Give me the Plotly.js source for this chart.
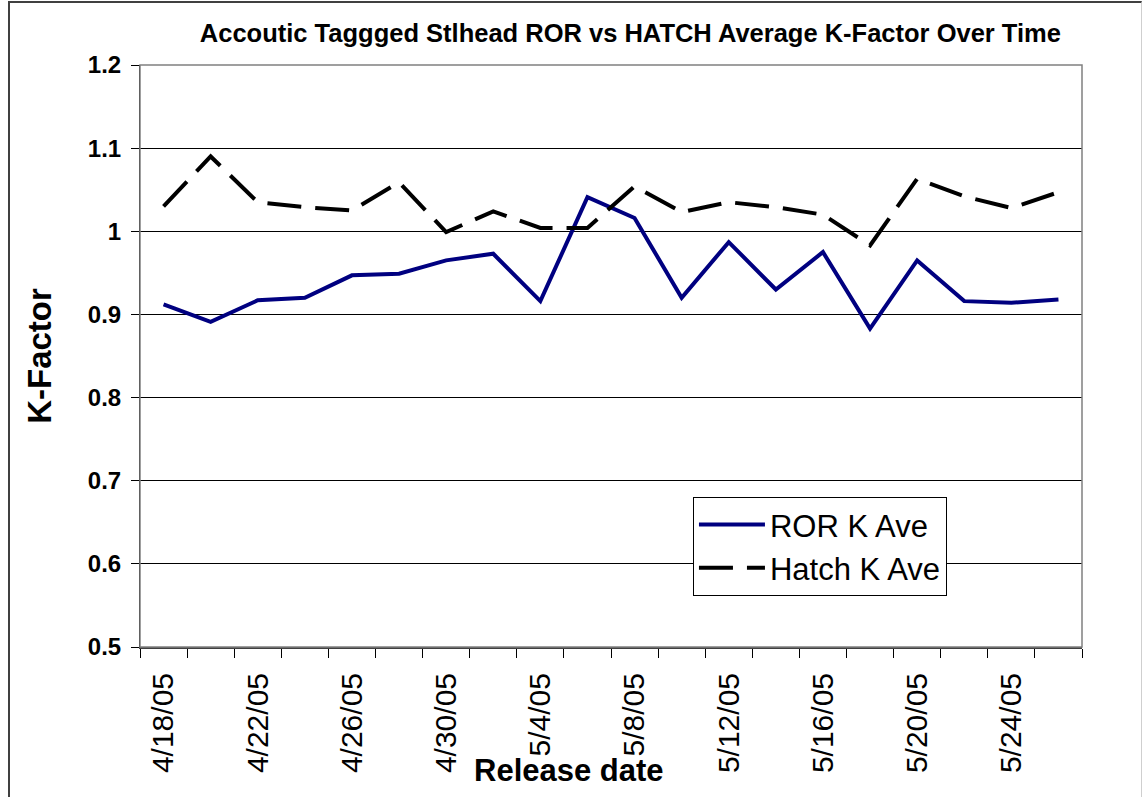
<!DOCTYPE html>
<html>
<head>
<meta charset="utf-8">
<script src="https://cdn.plot.ly/plotly-3.0.1.min.js"></script>
<style>
  html, body { margin: 0; padding: 0; background: #fff; }
  #chart { position: absolute; left: 0; top: 0; width: 1142px; height: 797px; }
  #frame { position: absolute; left: 8px; top: 1px; width: 1131px; height: 810px;
           border-left: 2px solid #404040; border-top: 2px solid #404040; border-right: 1px solid #cfcfcf;
           pointer-events: none; }
</style>
</head>
<body>
<div id="chart"></div>
<div id="frame"></div>
<script>
const releaseDates = ["4/18/05","4/20/05","4/22/05","4/24/05","4/26/05","4/28/05","4/30/05","5/2/05",
  "5/4/05","5/6/05","5/8/05","5/10/05","5/12/05","5/14/05","5/16/05","5/18/05",
  "5/20/05","5/22/05","5/24/05","5/26/05"];
const rorKAve = [0.912,0.891,0.917,0.920,0.947,0.949,0.965,0.973,0.916,1.041,
  1.016,0.920,0.987,0.930,0.975,0.883,0.965,0.916,0.914,0.918];
const hatchKAve = [1.030,1.090,1.035,1.029,1.025,1.059,0.999,1.024,1.004,1.004,
  1.054,1.023,1.035,1.029,1.020,0.983,1.063,1.042,1.028,1.047];
const tickLabels = releaseDates.map((d, i) => (i % 2 === 0 ? d : ""));

const FONT = "Liberation Sans, Arial, sans-serif";

const traces = [
  { x: releaseDates, y: rorKAve, type: "scatter", mode: "lines", name: "ROR K Ave",
    line: { color: "#000080", width: 4 } },
  { x: releaseDates, y: hatchKAve, type: "scatter", mode: "lines", name: "Hatch K Ave",
    line: { color: "#000000", width: 4, dash: "34px,14px" } }
];

const layout = {
  width: 1142, height: 797,
  margin: { l: 140, r: 60, t: 65, b: 150 },
  paper_bgcolor: "#ffffff", plot_bgcolor: "#ffffff",
  font: { family: FONT, color: "#000" },
  showlegend: true,
  title: { text: "<b>Accoutic Taggged Stlhead ROR vs HATCH Average K-Factor Over Time</b>",
           font: { size: 25.5, family: FONT, color: "#000" },
           x: 0.552, xanchor: "center", y: 0.958, yanchor: "middle" },
  xaxis: {
    type: "category", range: [-0.5, 19.5],
    tickmode: "array", tickvals: releaseDates, ticktext: tickLabels,
    tickson: "boundaries", ticks: "outside", ticklen: 9, tickcolor: "#000", tickwidth: 1,
    tickangle: -90, tickfont: { size: 30, family: FONT, color: "#000" },
    ticklabelstandoff: 12,
    showline: true, linecolor: "#404040", linewidth: 2,
    showgrid: false, zeroline: false, fixedrange: true
  },
  yaxis: {
    range: [0.5, 1.2], dtick: 0.1, tick0: 0.5,
    ticks: "outside", ticklen: 8, tickcolor: "#000", tickwidth: 1,
    tickfont: { size: 24, family: FONT, color: "#000", weight: "bold" },
    showline: true, linecolor: "#000", linewidth: 1,
    showgrid: true, gridcolor: "#000", gridwidth: 1, zeroline: false,
    ticklabelstandoff: 5,
    title: { text: "<b>K-Factor</b>", font: { size: 33, family: FONT, color: "#000" }, standoff: 26 },
    fixedrange: true
  },
  shapes: [
    { type: "rect", xref: "x domain", yref: "y domain", x0: 0, x1: 1, y0: 0, y1: 1,
      line: { color: "#808080", width: 1.5 }, layer: "above" }
  ],
  annotations: [
    { text: "<b>Release date</b>", xref: "paper", yref: "paper", x: 0.455, y: -0.212,
      xanchor: "center", yanchor: "middle", showarrow: false,
      font: { size: 31, family: FONT, color: "#000" } }
  ],
  legend: {
    x: 0.587, y: 0.258, xanchor: "left", yanchor: "top",
    bgcolor: "#ffffff", bordercolor: "#000", borderwidth: 1,
    font: { size: 31, family: FONT, color: "#000" },
    itemwidth: 66, tracegroupgap: 0
  }
};

Plotly.newPlot("chart", traces, layout, { displayModeBar: false, staticPlot: true });
</script>
</body>
</html>
